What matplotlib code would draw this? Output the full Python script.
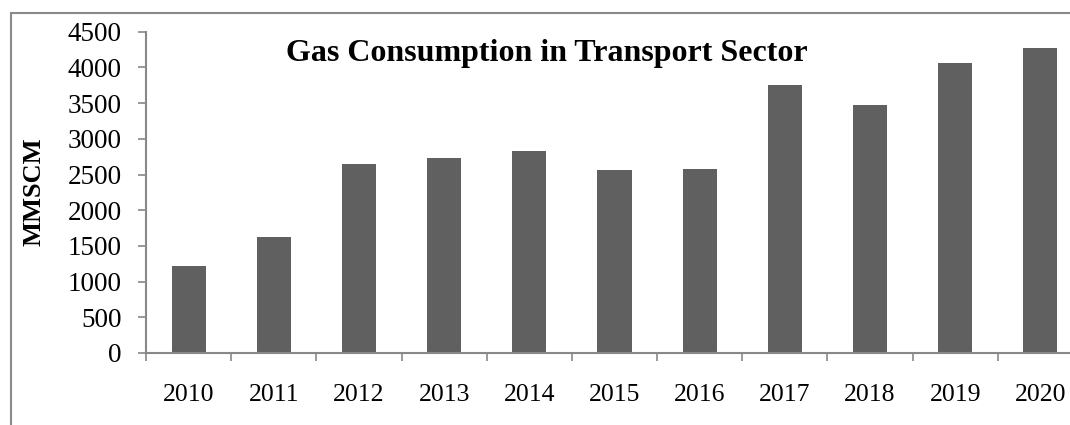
import matplotlib.pyplot as plt
from matplotlib.patches import Rectangle

# Gas consumption in transport sector (MMSCM)
years = ['2010', '2011', '2012', '2013', '2014', '2015', '2016', '2017', '2018', '2019', '2020']
consumption = [1214, 1620, 2647, 2731, 2825, 2559, 2581, 3749, 3473, 4057, 4276]
y_ticks = [0, 500, 1000, 1500, 2000, 2500, 3000, 3500, 4000, 4500]

plt.rcParams['font.family'] = ['Liberation Serif', 'DejaVu Serif']

fig = plt.figure(figsize=(10.7, 4.25), dpi=100)
# axes runs slightly past the right edge of the figure
ax = fig.add_axes([146 / 1070, 72 / 425, 937 / 1070, 321.3 / 425])

x = range(len(years))
ax.bar(x, consumption, width=0.4, color='#606060')

ax.set_xlim(-0.5, len(years) - 0.5)
ax.set_ylim(0, 4500)
ax.set_yticks(y_ticks)
ax.set_yticklabels([str(t) for t in y_ticks])
ax.set_xticks(list(x))
ax.set_xticklabels(years)
ax.set_xticks([i - 0.5 for i in range(len(years) + 1)], minor=True)

ax.tick_params(axis='y', direction='out', length=5.5, width=1.2, color='#888888',
               pad=12, labelsize=19.5)
ax.tick_params(axis='x', which='major', length=0, pad=22, labelsize=18.5)
ax.tick_params(axis='x', which='minor', direction='out', length=5.5, width=1.2,
               color='#888888')

for side in ['top', 'right']:
    ax.spines[side].set_visible(False)
for side in ['left', 'bottom']:
    ax.spines[side].set_color('#888888')
    ax.spines[side].set_linewidth(1.5)

fig.text(34 / 1070, 1 - 192 / 425, 'MMSCM', rotation=90, ha='center', va='center',
         fontsize=19, fontweight='bold')

fig.text(547 / 1070, 1 - 53 / 425, 'Gas Consumption in Transport Sector',
         ha='center', va='center', fontsize=23, fontweight='bold')

# chart border, cut off at right and bottom
frame = Rectangle((11 / 1070, -0.1), 1.2, 1 - 13 / 425 + 0.1, transform=fig.transFigure,
                  fill=False, edgecolor='#8a8a8a', linewidth=1.5)
fig.patches.append(frame)

fig.savefig('out.png', dpi=100)
